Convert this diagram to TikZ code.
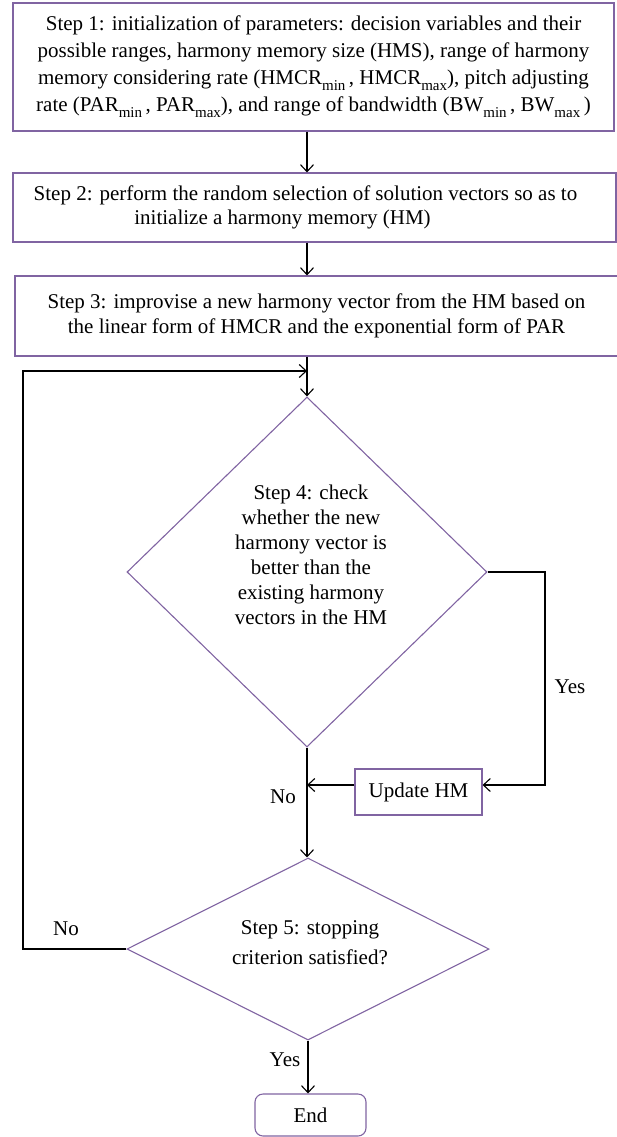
\documentclass[tikz,border=0pt]{standalone}
\usepackage{fontspec}
\setmainfont{Liberation Serif}
\usetikzlibrary{shapes.geometric,arrows.meta}
\definecolor{boxc}{RGB}{128,100,162}
\newcommand{\lowsub}[1]{\raisebox{-0.3em}{\fontsize{15}{15}\selectfont #1}}
\begin{document}
\begin{tikzpicture}[x=1pt,y=-1pt,
  txt/.style={font=\fontsize{21}{25}\selectfont},
  box/.style={draw=boxc, line width=1.1pt, inner sep=0pt, align=center, txt},
  dia/.style={diamond, draw=boxc, line width=1.1pt, inner sep=0pt},
  endbox/.style={box, rounded corners=8pt},
  arr/.style={draw=black, line width=1.1pt, -{Straight Barb[length=7pt,width=13pt]}},
  lbl/.style={inner sep=0pt, align=center, txt}]
\useasboundingbox (0,0) rectangle (617,1137);
\node[box, minimum width=601pt, minimum height=128pt, font=\fontsize{21}{27}\selectfont] (b1) at (313.5,67)
  {Step 1: initialization of parameters: decision variables and their\\
   possible ranges, harmony memory size (HMS), range of harmony\\
   memory considering rate (HMCR\lowsub{min}\,, HMCR\lowsub{max}), pitch adjusting\\
   rate (PAR\lowsub{min}\,, PAR\lowsub{max}), and range of bandwidth (BW\lowsub{min}\,, BW\lowsub{max}\,)};
\node[box, minimum width=603pt, minimum height=69pt, font=\fontsize{21}{24}\selectfont] (b2) at (314.5,207.5)
  {\hspace*{-18pt}Step 2: perform the random selection of solution vectors so as to\\
   \hspace*{-64pt}initialize a harmony memory (HM)};
\node[box, minimum width=603pt, minimum height=80pt] (b3) at (316.5,316)
  {Step 3: improvise a new harmony vector from the HM based on\\
   the linear form of HMCR and the exponential form of PAR};
\node[dia, minimum width=360pt, minimum height=350pt] (d1) at (307,572) {};
\node[lbl] (d1t) at (311,555)
  {Step 4: check\\ whether the new\\ harmony vector is\\ better than the\\ existing harmony\\ vectors in the HM};
\node[box, minimum width=127pt, minimum height=46pt] (upd) at (418.5,792) {Update HM};
\node[dia, minimum width=362pt, minimum height=182pt] (d2) at (308,949) {};
\node[lbl, font=\fontsize{21}{30}\selectfont] (d2t) at (310,943)
  {Step 5: stopping\\ criterion satisfied?};
\node[endbox, minimum width=111pt, minimum height=42pt] (end) at (310.5,1115) {End};
\coordinate (c) at (307,0);
\coordinate (join) at (307,371);
\coordinate (lx) at (23,0);
\coordinate (rx) at (545,0);
\coordinate (uy) at (0,785);
\draw[arr] (b1.south -| c) -- (b2.north -| c);
\draw[arr] (b2.south -| c) -- (b3.north -| c);
\draw[arr] (b3.south -| c) -- (d1.north);
\draw[arr] (d2.west) -- (d2.west -| lx) |- (join);
\draw[arr] (d1.east) -- (d1.east -| rx) |- (upd.east |- uy);
\draw[arr] (upd.west |- uy) -- (d1.south |- uy);
\draw[arr] (d1.south) -- (d1.south |- d2.north);
\draw[arr] (d2.south) -- (d2.south |- end.north);
\node[lbl] (yes1) at (570,687) {Yes};
\node[lbl] (no1) at (283,797) {No};
\node[lbl] (no2) at (66,929) {No};
\node[lbl] (yes2) at (285,1060) {Yes};
\end{tikzpicture}
\end{document}
